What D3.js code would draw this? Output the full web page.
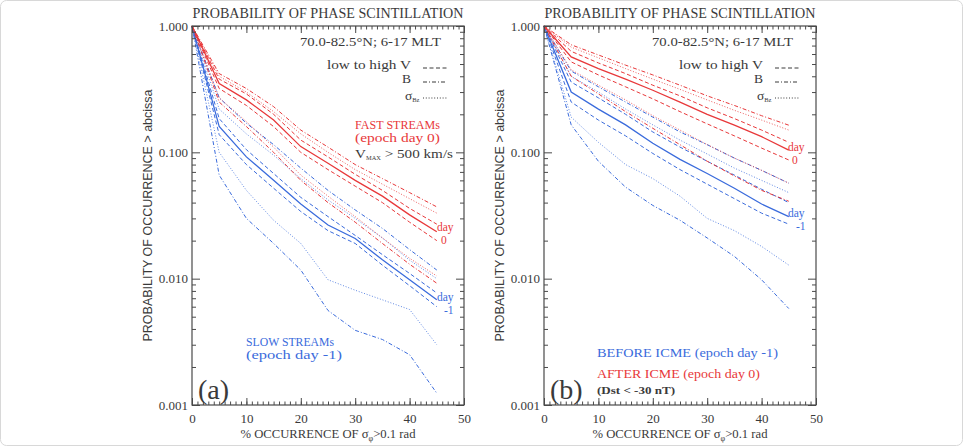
<!DOCTYPE html>
<html>
<head>
<meta charset="utf-8">
<script src="https://cdn.jsdelivr.net/npm/d3@7"></script>
<style>
  body { margin: 0; background: #fff; }
  svg { display: block; }
</style>
</head>
<body>
<svg id="chart" width="963" height="446"></svg>
<script>
// % occurrence of sigma_phi > 0.1 rad (abscissa)
const xPct = [0, 5, 10, 15, 20, 25, 30, 35, 40, 45];

// (a) fast streams, epoch day 0 (red)
const aRedMean    = [1, 0.35, 0.26, 0.18, 0.111, 0.082, 0.060, 0.045, 0.032, 0.0235];
const aRedVHigh   = [1, 0.38, 0.29, 0.20, 0.125, 0.092, 0.067, 0.050, 0.036, 0.027];
const aRedVLow    = [1, 0.32, 0.235, 0.16, 0.100, 0.073, 0.054, 0.040, 0.028, 0.020];
const aRedBHigh   = [1, 0.42, 0.32, 0.23, 0.15, 0.11, 0.080, 0.062, 0.048, 0.037];
const aRedBLow    = [1, 0.25, 0.16, 0.10, 0.060, 0.040, 0.028, 0.019, 0.013, 0.0092];
const aRedSigHigh = [1, 0.40, 0.30, 0.21, 0.14, 0.10, 0.073, 0.056, 0.043, 0.033];
const aRedSigLow  = [1, 0.27, 0.175, 0.11, 0.066, 0.045, 0.031, 0.021, 0.0145, 0.0105];

// (a) slow streams, epoch day -1 (blue)
const aBlueMean    = [1, 0.16, 0.092, 0.060, 0.039, 0.0266, 0.0208, 0.0141, 0.0098, 0.0068];
const aBlueVHigh   = [1, 0.185, 0.105, 0.068, 0.044, 0.031, 0.022, 0.0155, 0.011, 0.0077];
const aBlueVLow    = [1, 0.138, 0.080, 0.052, 0.034, 0.024, 0.019, 0.0128, 0.0088, 0.006];
const aBlueBHigh   = [1, 0.27, 0.17, 0.115, 0.075, 0.05, 0.035, 0.025, 0.017, 0.0117];
const aBlueBLow    = [1, 0.066, 0.030, 0.019, 0.0117, 0.0056, 0.0039, 0.0033, 0.0025, 0.00124];
const aBlueSigHigh = [1, 0.22, 0.14, 0.095, 0.062, 0.042, 0.030, 0.021, 0.014, 0.0100];
const aBlueSigLow  = [1, 0.10, 0.05, 0.029, 0.019, 0.0098, 0.0081, 0.0068, 0.0057, 0.003];

// (b) after ICME, epoch day 0 (red)
const bRedMean    = [1, 0.57, 0.46, 0.38, 0.31, 0.25, 0.20, 0.164, 0.133, 0.104];
const bRedVHigh   = [1, 0.63, 0.51, 0.42, 0.34, 0.28, 0.225, 0.185, 0.15, 0.12];
const bRedVLow    = [1, 0.52, 0.41, 0.33, 0.265, 0.21, 0.168, 0.135, 0.108, 0.087];
const bRedBHigh   = [1, 0.71, 0.59, 0.49, 0.41, 0.34, 0.28, 0.235, 0.195, 0.164];
const bRedBLow    = [1, 0.40, 0.29, 0.21, 0.155, 0.115, 0.085, 0.065, 0.05, 0.041];
const bRedSigHigh = [1, 0.68, 0.56, 0.46, 0.38, 0.315, 0.26, 0.215, 0.18, 0.15];
const bRedSigLow  = [1, 0.45, 0.34, 0.26, 0.195, 0.15, 0.115, 0.09, 0.072, 0.057];

// (b) before ICME, epoch day -1 (blue)
const bBlueMean    = [1, 0.30, 0.22, 0.165, 0.118, 0.088, 0.068, 0.052, 0.039, 0.031];
const bBlueVHigh   = [1, 0.36, 0.27, 0.20, 0.145, 0.11, 0.085, 0.066, 0.051, 0.040];
const bBlueVLow    = [1, 0.25, 0.18, 0.135, 0.098, 0.073, 0.056, 0.043, 0.033, 0.027];
const bBlueBHigh   = [1, 0.44, 0.33, 0.25, 0.19, 0.145, 0.115, 0.09, 0.072, 0.057];
const bBlueBLow    = [1, 0.165, 0.085, 0.053, 0.038, 0.029, 0.021, 0.015, 0.0098, 0.0058];
const bBlueSigHigh = [1, 0.40, 0.30, 0.22, 0.165, 0.125, 0.097, 0.075, 0.06, 0.048];
const bBlueSigLow  = [1, 0.19, 0.12, 0.08, 0.062, 0.045, 0.030, 0.024, 0.018, 0.0128];

const xTicks = [0, 10, 20, 30, 40, 50];
const yTicks = [1, 0.1, 0.01, 0.001];
const yTickLabels = ["1.000", "0.100", "0.010", "0.001"];

const RED = "#e8383a";
const BLUE = "#3a6bdc";
const INK = "#3a3a3a";
const AXIS = "#4a4a4a";
const SERIF = "'Liberation Serif', 'DejaVu Serif', serif";
const SANS = "'Liberation Sans', 'DejaVu Sans', sans-serif";

const yTop = 26, yBottom = 405;
const dashes = { solid: null, dash: "4,2.5", dashdot: "4,2,1,2", dot: "1,1.8" };

const svg = d3.select("#chart");

function series(color, mean, vHi, vLo, bHi, bLo, sHi, sLo) {
  return [
    { v: sHi, color, style: "dot" }, { v: sLo, color, style: "dot" },
    { v: bHi, color, style: "dashdot" }, { v: bLo, color, style: "dashdot" },
    { v: vHi, color, style: "dash" }, { v: vLo, color, style: "dash" },
    { v: mean, color, style: "solid" }
  ];
}

function txt(g, x, y, s, o = {}) {
  const t = g.append("text")
    .attr("x", x).attr("y", y)
    .attr("font-family", o.family || SERIF)
    .attr("font-size", o.size || 13)
    .attr("fill", o.color || INK)
    .attr("text-anchor", o.anchor || "start");
  if (o.weight) t.attr("font-weight", o.weight);
  if (o.len) t.attr("textLength", o.len).attr("lengthAdjust", "spacingAndGlyphs");
  if (o.rotate) t.attr("transform", `rotate(${o.rotate},${x},${y})`);
  if (Array.isArray(s)) {
    s.forEach(p => {
      const sp = t.append("tspan").text(p.t);
      if (p.sub) sp.attr("font-size", p.sub);
      if (p.dy) sp.attr("dy", p.dy);
    });
  } else t.text(s);
  return t;
}

// "day" with the epoch number under it
function dayLabel(g, x, y, num, numX, color) {
  txt(g, x, y, "day", { color, size: 11.5 });
  txt(g, numX, y + 13, num, { color, size: 11.5 });
}

function drawPanel(cfg) {
  const g = svg.append("g");
  const x = d3.scaleLinear().domain([0, 50]).range([cfg.x0, cfg.x1]);
  const y = d3.scaleLog().domain([0.001, 1]).range([yBottom, yTop]);
  const W = cfg.x1 - cfg.x0;

  // curves
  const line = d3.line().x((d, i) => x(xPct[i])).y(d => y(d));
  cfg.lines.forEach(s => {
    g.append("path")
      .attr("d", line(s.v))
      .attr("fill", "none")
      .attr("stroke", s.color)
      .attr("stroke-width", s.style === "solid" ? 1.3 : 1)
      .attr("stroke-opacity", s.style === "dot" ? 0.8 : 1)
      .attr("stroke-dasharray", dashes[s.style]);
  });

  // axes (ticks inward on all four sides)
  const xMinor = d3.range(0, 51, 1);
  const yMinor = [];
  [0.001, 0.01, 0.1].forEach(dec => d3.range(2, 10).forEach(k => yMinor.push(dec * k)));

  function axisG(axis, tx, ty) {
    const a = g.append("g").attr("transform", `translate(${tx},${ty})`).call(axis);
    a.select(".domain").remove();
    a.selectAll("line").attr("stroke", AXIS);
    a.selectAll("text").attr("font-family", SERIF).attr("font-size", 13).attr("fill", INK);
    return a;
  }
  axisG(d3.axisBottom(x).tickValues(xTicks).tickSizeInner(-7).tickSizeOuter(0).tickPadding(9).tickFormat(d3.format("d")), 0, yBottom);
  axisG(d3.axisBottom(x).tickValues(xMinor).tickSizeInner(-3.5).tickSizeOuter(0).tickFormat(""), 0, yBottom);
  axisG(d3.axisTop(x).tickValues(xTicks).tickSizeInner(-7).tickSizeOuter(0).tickFormat(""), 0, yTop);
  axisG(d3.axisTop(x).tickValues(xMinor).tickSizeInner(-3.5).tickSizeOuter(0).tickFormat(""), 0, yTop);
  axisG(d3.axisLeft(y).tickValues(yTicks).tickSizeInner(-8).tickSizeOuter(0).tickPadding(4)
    .tickFormat((d, i) => yTickLabels[i]), cfg.x0, 0);
  axisG(d3.axisLeft(y).tickValues(yMinor).tickSizeInner(-4).tickSizeOuter(0).tickFormat(""), cfg.x0, 0);
  axisG(d3.axisRight(y).tickValues(yTicks).tickSizeInner(-8).tickSizeOuter(0).tickFormat(""), cfg.x1, 0);
  axisG(d3.axisRight(y).tickValues(yMinor).tickSizeInner(-4).tickSizeOuter(0).tickFormat(""), cfg.x1, 0);

  g.append("rect")
    .attr("x", cfg.x0).attr("y", yTop).attr("width", W).attr("height", yBottom - yTop)
    .attr("fill", "none").attr("stroke", AXIS).attr("stroke-width", 1.2);

  // titles and axis labels
  txt(g, (cfg.x0 + cfg.x1) / 2, 18, "PROBABILITY OF PHASE SCINTILLATION",
    { anchor: "middle", size: 14.5, len: 271 });
  txt(g, (cfg.x0 + cfg.x1) / 2, 438,
    [{ t: "% OCCURRENCE OF σ" }, { t: "φ", sub: 8, dy: 3 }, { t: ">0.1 rad", sub: 12.5, dy: -3 }],
    { anchor: "middle", size: 12.5, len: 175 });
  txt(g, cfg.x0 - 40, (yTop + yBottom) / 2, "PROBABILITY OF OCCURRENCE > abcissa",
    { anchor: "middle", size: 12, family: SANS, rotate: -90, len: 252 });

  // legend
  txt(g, cfg.x1 - 23, 46, "70.0-82.5°N; 6-17 MLT", { anchor: "end", size: 13.5, len: 141 });
  txt(g, cfg.x1 - 53, 69, "low to high V", { anchor: "end", size: 13.5, len: 84 });
  txt(g, cfg.x1 - 53, 83, "B", { anchor: "end", size: 13.5 });
  txt(g, cfg.x1 - 59, 100, [{ t: "σ" }, { t: "Bz", sub: 6.5, dy: 2 }], { size: 13.5 });
  [["dash", 68], ["dashdot", 82], ["dot", 98]].forEach(([st, yy]) => {
    g.append("line")
      .attr("x1", cfg.x1 - 41).attr("x2", cfg.x1 - 17).attr("y1", yy).attr("y2", yy)
      .attr("stroke", INK).attr("stroke-width", 1).attr("stroke-dasharray", dashes[st]);
  });

  txt(g, cfg.x0 + 6, 399, cfg.tag, { size: 28 });
  cfg.notes(g);
}

drawPanel({
  x0: 192, x1: 464, tag: "(a)",
  lines: [...series(BLUE, aBlueMean, aBlueVHigh, aBlueVLow, aBlueBHigh, aBlueBLow, aBlueSigHigh, aBlueSigLow),
          ...series(RED, aRedMean, aRedVHigh, aRedVLow, aRedBHigh, aRedBLow, aRedSigHigh, aRedSigLow)],
  notes: g => {
    txt(g, 355, 129, "FAST STREAMs", { color: RED, size: 12.5, len: 85 });
    txt(g, 355, 142, "(epoch day 0)", { color: RED, size: 12.5, len: 85 });
    txt(g, 355, 158, [{ t: "V" }, { t: "MAX", sub: 5.5, dy: 2 }, { t: " > 500 km/s", sub: 13, dy: -2 }],
      { len: 98 });
    dayLabel(g, 437, 231, "0", 441, RED);
    dayLabel(g, 437, 301, "-1", 444, BLUE);
    txt(g, 246, 346, "SLOW STREAMs", { color: BLUE, size: 12.5, len: 88 });
    txt(g, 246, 359, "(epoch day -1)", { color: BLUE, size: 12.5, len: 96 });
  }
});

drawPanel({
  x0: 544, x1: 816, tag: "(b)",
  lines: [...series(BLUE, bBlueMean, bBlueVHigh, bBlueVLow, bBlueBHigh, bBlueBLow, bBlueSigHigh, bBlueSigLow),
          ...series(RED, bRedMean, bRedVHigh, bRedVLow, bRedBHigh, bRedBLow, bRedSigHigh, bRedSigLow)],
  notes: g => {
    dayLabel(g, 788, 151, "0", 792, RED);
    dayLabel(g, 788, 217, "-1", 796, BLUE);
    txt(g, 597, 357, "BEFORE ICME (epoch day -1)", { color: BLUE, len: 181 });
    txt(g, 597, 378, "AFTER ICME (epoch day 0)", { color: RED, len: 163 });
    txt(g, 597, 394, "(Dst < -30 nT)", { size: 10, weight: "bold", len: 78 });
  }
});

svg.append("rect").attr("x", 0.5).attr("y", 0.5).attr("width", 962).attr("height", 445)
  .attr("rx", 6).attr("fill", "none").attr("stroke", "#d8d8d8");
</script>
</body>
</html>
